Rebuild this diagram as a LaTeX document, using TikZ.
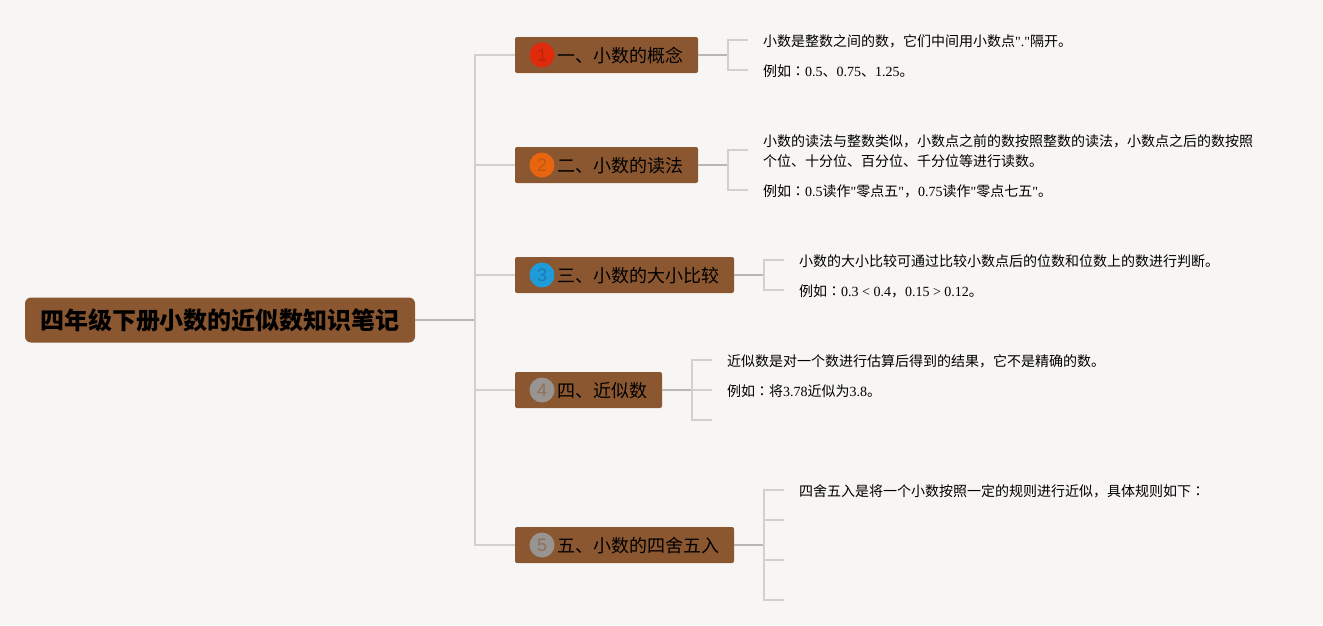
\documentclass[tikz,border=0pt]{standalone}
\usepackage{fontspec}
\setmainfont{Liberation Serif}
\setsansfont{Liberation Sans}
\newfontfamily\cjk{Noto Sans CJK SC}
\newfontfamily\cjkjp{Noto Sans CJK JP}
\newfontfamily\plainserif{Liberation Serif}
\newcommand{\cn}[1]{{\cjk #1}}
\newcommand{\qt}{{\plainserif"}}
\newcommand{\cl}{{\cjkjp ：}}
\definecolor{paper}{HTML}{F8F6F4}
\definecolor{bark}{HTML}{8B5731}
\definecolor{bough}{HTML}{B9B6B3}
\definecolor{twiglight}{HTML}{D2CFCC}
\definecolor{inka}{HTML}{E02A0C}
\definecolor{inkb}{HTML}{E7650F}
\definecolor{inkc}{HTML}{1F9BD9}
\definecolor{inkd}{HTML}{979491}
\tikzset{
	rootbox/.style={draw=none,fill=bark,rounded corners=6pt,inner sep=0,outer sep=0,minimum height=45pt,minimum width=390pt,font=\fontsize{24pt}{28pt}\cjk\bfseries},
	topicbox/.style={draw=none,fill=bark,rounded corners=2pt,inner sep=0,outer sep=0,minimum height=36pt},
	badge/.style={circle,inner sep=0,outer sep=0,minimum size=25pt,font=\fontsize{18pt}{18pt}\sffamily},
	topictext/.style={anchor=west,inner sep=0,font=\fontsize{18pt}{20pt}\cjk},
	leaftext/.style={anchor=west,inner sep=0,font=\fontsize{14pt}{20pt}\selectfont},
	bigline/.style={draw=bough,line width=1.6pt},
	twig/.style={draw=twiglight,line width=1.5pt}
}
\begin{document}
\begin{tikzpicture}[x=1pt,y=-1pt]
	\path[fill=paper,use as bounding box] (0,0) rectangle (1323,625);
	% root and topics
	\node[rootbox] (root) at (220,320) {\raisebox{-1pt}{四年级下册小数的近似数知识笔记}};
	\node[topicbox,minimum width=183pt] (t1) at (606.5,55) {};
	\node[topicbox,minimum width=183pt] (t2) at (606.5,165) {};
	\node[topicbox,minimum width=219pt] (t3) at (624.5,275) {};
	\node[topicbox,minimum width=147pt] (t4) at (588.5,390) {};
	\node[topicbox,minimum width=219pt] (t5) at (624.5,545) {};
	\node[badge,fill=inka,text=inka!85!black] (b1) at (542,55) {1};
	\node[badge,fill=inkb,text=inkb!85!black] (b2) at (542,165) {2};
	\node[badge,fill=inkc,text=inkc!80!black] (b3) at (542,275) {3};
	\node[badge,fill=inkd,text=bark!60!inkd] (b4) at (542,390) {4};
	\node[badge,fill=inkd,text=bark!60!inkd] (b5) at (542,545) {5};
	\node[topictext] (n1) at (557,56) {一、小数的概念};
	\node[topictext] (n2) at (557,166) {二、小数的读法};
	\node[topictext] (n3) at (557,276) {三、小数的大小比较};
	\node[topictext] (n4) at (557,391) {四、近似数};
	\node[topictext] (n5) at (557,546) {五、小数的四舍五入};
	% leaf texts
	\node[leaftext] (a1) at (763,41.5) {\cn{小数是整数之间的数，它们中间用小数点}\qt.\qt\cn{隔开。}};
	\node[leaftext] (a2) at (763,71.5) {\cn{例如}\cl 0.5\cn{、}0.75\cn{、}1.25\cn{。}};
	\node[leaftext] (c1) at (763,141.5) {\cn{小数的读法与整数类似，小数点之前的数按照整数的读法，小数点之后的数按照}};
	\node[leaftext] (c2) at (763,161.5) {\cn{个位、十分位、百分位、千分位等进行读数。}};
	\node[leaftext] (c3) at (763,191.5) {\cn{例如}\cl 0.5\cn{读作}\qt\cn{零点五}\qt\cn{，}0.75\cn{读作}\qt\cn{零点七五}\qt\cn{。}};
	\node[leaftext] (d1) at (799,261.5) {\cn{小数的大小比较可通过比较小数点后的位数和位数上的数进行判断。}};
	\node[leaftext] (d2) at (799,291.5) {\cn{例如}\cl 0.3 < 0.4\cn{，}0.15 > 0.12\cn{。}};
	\node[leaftext] (e1) at (727,361.5) {\cn{近似数是对一个数进行估算后得到的结果，它不是精确的数。}};
	\node[leaftext] (e2) at (727,391.5) {\cn{例如}\cl\cn{将}3.78\cn{近似为}3.8\cn{。}};
	\node[leaftext] (g1) at (799,491.5) {\cn{四舍五入是将一个小数按照一定的规则进行近似，具体规则如下}\cl};
	% forks
	\coordinate (spine) at (475,320);
	\coordinate (f1) at (728,55);
	\coordinate (f2) at (728,165);
	\coordinate (f3) at (764,275);
	\coordinate (f4) at (692,390);
	\coordinate (f5) at (764,545);
	\coordinate (s1a) at (748,40);
	\coordinate (s1b) at (748,70);
	\coordinate (s2a) at (748,150);
	\coordinate (s2b) at (748,190);
	\coordinate (s3a) at (784,260);
	\coordinate (s3b) at (784,290);
	\coordinate (s4a) at (712,360);
	\coordinate (s4b) at (712,390);
	\coordinate (s4c) at (712,420);
	\coordinate (s5a) at (784,490);
	\coordinate (s5b) at (784,520);
	\coordinate (s5c) at (784,560);
	\coordinate (s5d) at (784,600);
	% connectors
	\draw[bigline] (root.east) -- (spine);
	\draw[twig] (spine) |- (t1.west);
	\draw[twig] (spine) |- (t2.west);
	\draw[twig] (spine) |- (t3.west);
	\draw[twig] (spine) |- (t4.west);
	\draw[twig] (spine) |- (t5.west);
	\draw[bigline] (t1.east) -- (f1);
	\draw[bigline] (t2.east) -- (f2);
	\draw[bigline] (t3.east) -- (f3);
	\draw[bigline] (t4.east) -- (f4);
	\draw[bigline] (t5.east) -- (f5);
	\draw[twig] (f1) |- (s1a);
	\draw[twig] (f1) |- (s1b);
	\draw[twig] (f2) |- (s2a);
	\draw[twig] (f2) |- (s2b);
	\draw[twig] (f3) |- (s3a);
	\draw[twig] (f3) |- (s3b);
	\draw[twig] (f4) |- (s4a);
	\draw[twig] (f4) -- (s4b);
	\draw[twig] (f4) |- (s4c);
	\draw[twig] (f5) |- (s5a);
	\draw[twig] (f5) |- (s5b);
	\draw[twig] (f5) |- (s5c);
	\draw[twig] (f5) |- (s5d);
\end{tikzpicture}
\end{document}
